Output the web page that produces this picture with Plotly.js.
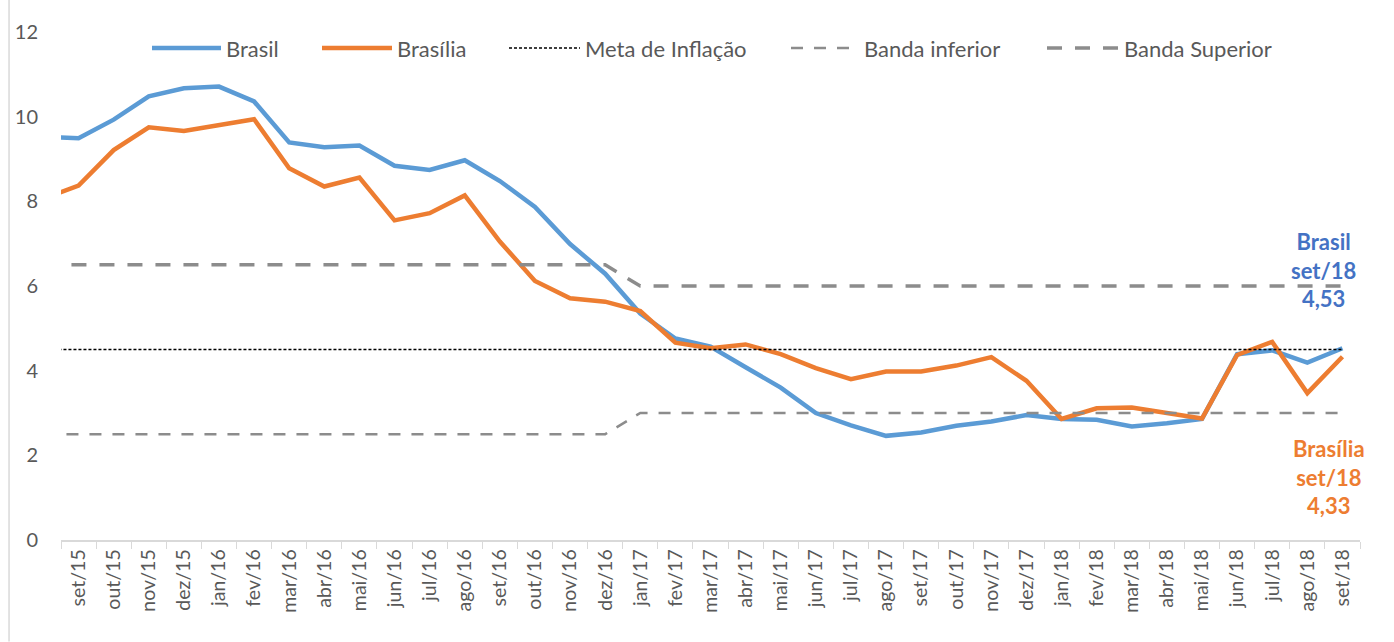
<!DOCTYPE html>
<html>
<head>
<meta charset="utf-8">
<script src="https://cdn.plot.ly/plotly-3.0.1.min.js"></script>
<style>html,body{margin:0;padding:0;background:#fff}#chart{width:1394px;height:642px}</style>
</head>
<body>
<div id="chart"></div>
<script>
// ago/15 is a leading point that sits just outside the visible range (line enters from the left edge)
const months = ['ago/15','set/15','out/15','nov/15','dez/15',
  'jan/16','fev/16','mar/16','abr/16','mai/16','jun/16','jul/16','ago/16','set/16','out/16','nov/16','dez/16',
  'jan/17','fev/17','mar/17','abr/17','mai/17','jun/17','jul/17','ago/17','set/17','out/17','nov/17','dez/17',
  'jan/18','fev/18','mar/18','abr/18','mai/18','jun/18','jul/18','ago/18','set/18'];
const brasil = [9.53, 9.49, 9.93, 10.48, 10.67,
  10.71, 10.36, 9.39, 9.28, 9.32, 8.84, 8.74, 8.97, 8.48, 7.87, 6.99, 6.29,
  5.35, 4.76, 4.57, 4.08, 3.60, 3.00, 2.71, 2.46, 2.54, 2.70, 2.80, 2.95,
  2.86, 2.84, 2.68, 2.76, 2.86, 4.39, 4.48, 4.19, 4.53];
const brasilia = [8.07, 8.37, 9.21, 9.75, 9.66,
  9.80, 9.94, 8.78, 8.35, 8.56, 7.55, 7.72, 8.14, 7.05, 6.12, 5.71, 5.63,
  5.41, 4.66, 4.53, 4.62, 4.39, 4.06, 3.80, 3.98, 3.98, 4.12, 4.32, 3.76,
  2.86, 3.11, 3.13, 2.99, 2.87, 4.37, 4.68, 3.47, 4.33];
const meta = [4.5, 4.5, 4.5, 4.5, 4.5,
  4.5, 4.5, 4.5, 4.5, 4.5, 4.5, 4.5, 4.5, 4.5, 4.5, 4.5, 4.5,
  4.5, 4.5, 4.5, 4.5, 4.5, 4.5, 4.5, 4.5, 4.5, 4.5, 4.5, 4.5,
  4.5, 4.5, 4.5, 4.5, 4.5, 4.5, 4.5, 4.5, 4.5];
const bandaInferior = [2.5, 2.5, 2.5, 2.5, 2.5,
  2.5, 2.5, 2.5, 2.5, 2.5, 2.5, 2.5, 2.5, 2.5, 2.5, 2.5, 2.5,
  3.0, 3.0, 3.0, 3.0, 3.0, 3.0, 3.0, 3.0, 3.0, 3.0, 3.0, 3.0,
  3.0, 3.0, 3.0, 3.0, 3.0, 3.0, 3.0, 3.0, 3.0];
const bandaSuperior = [6.5, 6.5, 6.5, 6.5, 6.5,
  6.5, 6.5, 6.5, 6.5, 6.5, 6.5, 6.5, 6.5, 6.5, 6.5, 6.5, 6.5,
  6.0, 6.0, 6.0, 6.0, 6.0, 6.0, 6.0, 6.0, 6.0, 6.0, 6.0, 6.0,
  6.0, 6.0, 6.0, 6.0, 6.0, 6.0, 6.0, 6.0, 6.0];
const yTicks = [0, 2, 4, 6, 8, 10, 12];
const shownMonths = months.slice(1);

const FONT = 'Lato, "Open Sans", sans-serif';
const TXT = '#595959';
const GRAY = '#8c8c8c';

const traces = [
  {x: months, y: brasil, name: 'Brasil', type: 'scatter', mode: 'lines', legend: 'legend',
   line: {color: '#5B9BD5', width: 4.5}},
  {x: months, y: brasilia, name: 'Brasília', type: 'scatter', mode: 'lines', legend: 'legend2',
   line: {color: '#ED7D31', width: 4.5}},
  {x: months, y: meta, name: 'Meta de Inflação', type: 'scatter', mode: 'lines', legend: 'legend3',
   line: {color: '#000000', width: 1.5, dash: '3px,2px'}},
  {x: months, y: bandaInferior, name: 'Banda inferior', type: 'scatter', mode: 'lines', legend: 'legend4',
   line: {color: GRAY, width: 2.5, dash: '12px,11px'}},
  {x: months, y: bandaSuperior, name: 'Banda Superior', type: 'scatter', mode: 'lines', legend: 'legend5',
   line: {color: GRAY, width: 3.5, dash: '15px,13px'}}
];

function leg(px, w) {
  return {orientation: 'h', x: (px - 61) / 1299, y: 0.968, xanchor: 'left', yanchor: 'middle',
          font: {family: FONT, size: 22, color: TXT}, bgcolor: 'rgba(0,0,0,0)',
          itemwidth: w, borderwidth: 0};
}

const layout = {
  width: 1394, height: 642,
  margin: {l: 61, r: 34, t: 32, b: 102},
  paper_bgcolor: '#ffffff', plot_bgcolor: '#ffffff',
  font: {family: FONT, size: 20, color: TXT},
  showlegend: true,
  legend: leg(147, 69),
  legend2: leg(317, 70),
  legend3: leg(504, 71),
  legend4: leg(786, 68),
  legend5: leg(1042, 72),
  xaxis: {type: 'category', categoryorder: 'array', categoryarray: months,
          range: [0.5, 37.5], tickmode: 'array', tickvals: shownMonths, ticktext: shownMonths,
          tickangle: -90, tickson: 'boundaries', ticks: 'outside', ticklen: 7, tickcolor: '#d9d9d9',
          showline: true, linecolor: '#d9d9d9', linewidth: 1.5, showgrid: false, zeroline: false,
          tickfont: {family: FONT, size: 19.5, color: TXT}, fixedrange: true},
  yaxis: {range: [0, 12], tickmode: 'array', tickvals: yTicks, ticktext: yTicks.map(String),
          showgrid: false, zeroline: false, showline: false, ticks: '',
          ticklabelstandoff: 22,
          tickfont: {family: FONT, size: 20, color: TXT}, fixedrange: true},
  shapes: [
    {type: 'line', xref: 'paper', yref: 'paper', x0: -0.0400, x1: -0.0400, y0: -0.20, y1: 1.063,
     line: {color: '#d9d9d9', width: 1.5}}
  ],
  annotations: [
    {xref: 'paper', yref: 'paper', x: 0.9719, y: 0.5315, xanchor: 'center', yanchor: 'middle',
     text: '<b>Brasil<br>set/18<br>4,53</b>', showarrow: false, align: 'center',
     font: {family: FONT, size: 22, color: '#4472C4'}},
    {xref: 'paper', yref: 'paper', x: 0.9759, y: 0.124, xanchor: 'center', yanchor: 'middle',
     text: '<b>Brasília<br>set/18<br>4,33</b>', showarrow: false, align: 'center',
     font: {family: FONT, size: 22, color: '#ED7D31'}}
  ]
};

Plotly.newPlot('chart', traces, layout, {displayModeBar: false, staticPlot: true});
</script>
</body>
</html>
